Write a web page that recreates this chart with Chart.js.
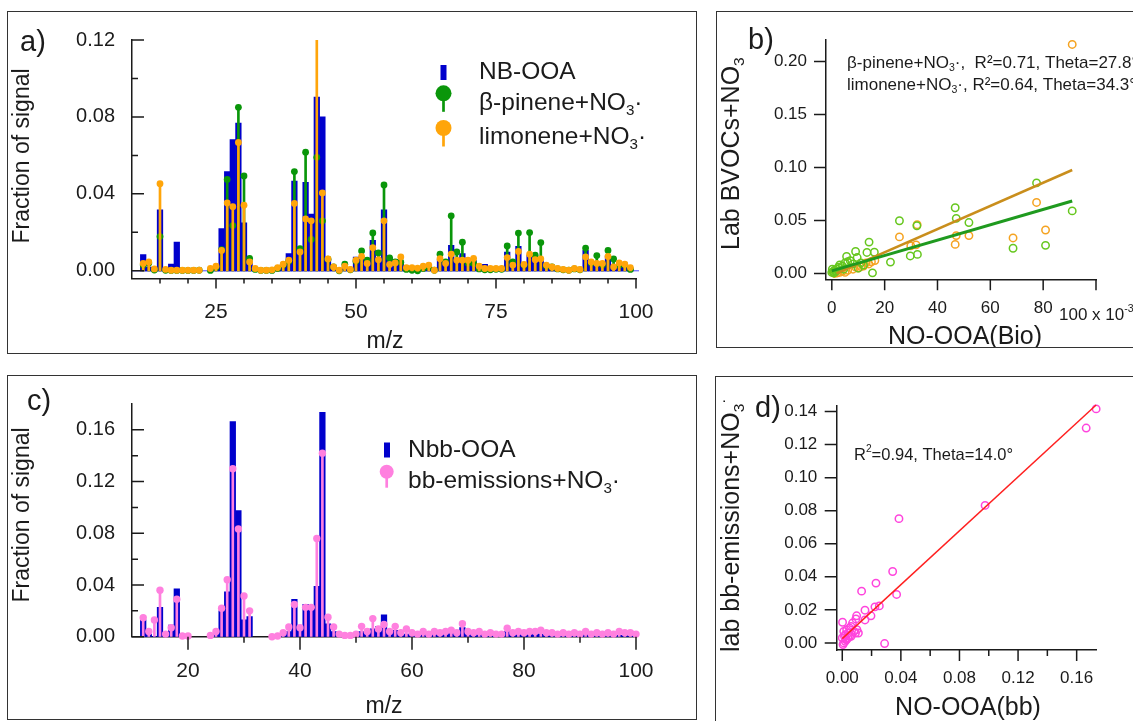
<!DOCTYPE html>
<html>
<head>
<meta charset="utf-8">
<script src="https://cdn.jsdelivr.net/npm/chart.js@4"></script>
<style>
	html, body { margin: 0; padding: 0; background: #fff; overflow: hidden; width: 1133px; height: 721px; }
	canvas { position: absolute; }
	.frame { position: absolute; box-sizing: border-box; border: 1.5px solid #333; pointer-events: none; }
</style>
</head>
<body>
<canvas id="chartA" width="690" height="343" style="left:7px;top:11px"></canvas>
<canvas id="chartB" width="430" height="337" style="left:716px;top:11px"></canvas>
<canvas id="chartC" width="690" height="345" style="left:7px;top:375px"></canvas>
<canvas id="chartD" width="430" height="360" style="left:715px;top:376px"></canvas>
<div class="frame" style="left:7px;top:11px;width:690px;height:343px"></div>
<div class="frame" style="left:716px;top:11px;width:430px;height:337px"></div>
<div class="frame" style="left:7px;top:375px;width:690px;height:345px"></div>
<div class="frame" style="left:715px;top:376px;width:430px;height:360px"></div>
<script>
// ---- a) NB-OOA vs lab BVOC+NO3 spectra ----
const mzA = [12, 13, 14, 15, 16, 17, 18, 19, 20, 21, 22, 23, 24, 25, 26, 27, 28, 29, 30, 31,
	32, 33, 34, 35, 36, 37, 38, 39, 40, 41, 42, 43, 44, 45, 46, 47, 48, 49, 50, 51,
	52, 53, 54, 55, 56, 57, 58, 59, 60, 61, 62, 63, 64, 65, 66, 67, 68, 69, 70, 71,
	72, 73, 74, 75, 76, 77, 78, 79, 80, 81, 82, 83, 84, 85, 86, 87, 88, 89, 90, 91,
	92, 93, 94, 95, 96, 97, 98, 99];
const nbOoa = [0.0084, 0.002, 0.001, 0.0317, 0.001, 0.0035, 0.015, 0, 0, 0,
	0, null, 0.0005, 0.001, 0.022, 0.0516, 0.0682, 0.0768, 0.025, 0.005,
	0.001, 0, 0, 0, 0.001, 0.003, 0.0089, 0.0466, 0.011, 0.046,
	0.0295, 0.0903, 0.080, 0.006, 0.002, 0.001, 0.002, 0.001, 0.0072, 0.0072,
	0.004, 0.0158, 0.007, 0.0317, 0.007, 0.006, 0.004, 0.001, 0.001, 0.001,
	0.001, 0.002, 0.001, 0.006, 0.004, 0.0132, 0.006, 0.009, 0.004, 0.0055,
	0.0034, 0.0034, 0.001, 0.001, 0.001, 0.0098, 0.004, 0.0127, 0.003, 0.008,
	0.006, 0.006, 0.003, 0.002, 0.001, 0.001, 0.0005, 0.001, 0.0005, 0.0106,
	0.0045, 0.0045, 0.0045, 0.0078, 0.003, 0.003, 0.002, 0.001];
const pinene = [0.003, 0.004, 0.0004, 0.0178, 0.0003, 0.0002, 0.0002, 0.0002, 0.0002, 0.0002,
	0.0003, null, 0.0002, 0.0017, 0.011, 0.0475, 0.0235, 0.085, 0.0493, 0.0064,
	0.0007, 0.0002, 0.0002, 0.0002, 0.0012, 0.003, 0.005, 0.0516, 0.0115, 0.0617,
	0.0163, 0.059, 0.026, 0.006, 0.002, 0.0, 0.0034, 0.0005, 0.005, 0.0103,
	0.0055, 0.0197, 0.0093, 0.0446, 0.0067, 0.0046, 0.0045, 0.0007, 0.0003, 0.0,
	0.0012, 0.002, 0.0003, 0.0086, 0.0046, 0.0286, 0.0098, 0.0149, 0.004, 0.0038,
	0.001, 0.0005, 0.0005, 0.0008, 0.0008, 0.0129, 0.0046, 0.0196, 0.003, 0.0199,
	0.0081, 0.0147, 0.0025, 0.002, 0.001, 0.0005, 0.0003, 0.001, 0.0005, 0.0118,
	0.004, 0.0079, 0.003, 0.0106, 0.0062, 0.003, 0.003, 0.0007];
const limonene = [0.0038, 0.0046, 0.001, 0.0453, 0.0007, 0.0003, 0.0003, 0.0003, 0.0003, 0.0003,
	0.0003, null, 0.0012, 0.0024, 0.0106, 0.0353, 0.0333, 0.0667, 0.0341, 0.0046,
	0.0012, 0.0003, 0.0003, 0.0005, 0.0017, 0.0034, 0.0055, 0.035, 0.0098, 0.027,
	0.026, 0.13, 0.0405, 0.0062, 0.002, 0.0003, 0.0024, 0.0007, 0.0055, 0.0075,
	0.0038, 0.012, 0.0058, 0.026, 0.0033, 0.0041, 0.0072, 0.0017, 0.0017, 0.0014,
	0.0024, 0.003, 0.0003, 0.0063, 0.0038, 0.0086, 0.0055, 0.0055, 0.0055, 0.0064,
	0.0024, 0.0012, 0.0012, 0.0012, 0.0012, 0.0069, 0.003, 0.0101, 0.0033, 0.0086,
	0.0058, 0.0062, 0.003, 0.002, 0.0012, 0.0007, 0.0003, 0.0012, 0.0007, 0.0072,
	0.0046, 0.0038, 0.0038, 0.0075, 0.002, 0.0041, 0.0034, 0.0017];

// ---- b) lab vs ambient scatter (x in 1e-3) ----
const pineneX = [91, 77.5, 80.9, 68.6, 51.9, 46.7, 47.1, 32.2, 32.4, 29.7, 25.6, 22.2, 15.4, 16.1, 14.1, 13.3,
	9, 9.6, 5.6, 5, 4, 3, 2, 1, 0.5, 0, 0.2, 7, 11, 12, 8, 6, 10, 3, 1.5, 2.5, 4.5, 0.8];
const pineneY = [0.059, 0.0854, 0.0265, 0.0238, 0.048, 0.062, 0.052, 0.045, 0.018, 0.0165, 0.0497, 0.0107, 0.0006, 0.020, 0.0296, 0.0198,
	0.0207, 0.015, 0.016, 0.010, 0.007, 0.005, 0.004, 0.003, 0.002, 0.001, 0.004, 0.012, 0.010, 0.008, 0.009, 0.011, 0.005, 0.008, 0.002, 0.006, 0.004, 0.0005];
const limoneneX = [91, 77.5, 80.9, 68.6, 51.9, 47.1, 46.7, 32.3, 31.9, 29.9, 25.6, 16.3, 14, 12,
	10, 8, 6, 4, 3, 2, 1, 0.5, 9, 13, 5, 15, 11];
const limoneneY = [0.216, 0.067, 0.041, 0.0335, 0.0357, 0.0357, 0.0274, 0.046, 0.027, 0.026, 0.0345, 0.0122, 0.009, 0.007,
	0.005, 0.004, 0.003, 0.002, 0.001, 0.0005, 0.0, 0.001, 0.006, 0.010, 0.001, 0.011, 0.0065];
const limFitX = [1.8, 91];
const limFitY = [0, 0.0976];
const pinFitX = [0, 91];
const pinFitY = [0.0024, 0.0683];

// ---- c) Nbb-OOA vs lab bb-emissions+NO3 ----
const mzC = [12, 13, 14, 15, 16, 17, 18, 19, 20, 21, 22, 23, 24, 25, 26, 27, 28, 29, 30, 31,
	32, 33, 34, 35, 36, 37, 38, 39, 40, 41, 42, 43, 44, 45, 46, 47, 48, 49, 50, 51,
	52, 53, 54, 55, 56, 57, 58, 59, 60, 61, 62, 63, 64, 65, 66, 67, 68, 69, 70, 71,
	72, 73, 74, 75, 76, 77, 78, 79, 80, 81, 82, 83, 84, 85, 86, 87, 88, 89, 90, 91,
	92, 93, 94, 95, 96, 97, 98, 99, 100];
const nbbOoa = [0.013, 0.002, 0.0, 0.0227, 0.001, 0.009, 0.037, 0, 0, null,
	null, null, 0, 0.002, 0.020, 0.0348, 0.1664, 0.0975, 0.013, 0.0155,
	null, null, null, 0, 0, 0.002, 0.004, 0.029, 0.005, 0.025,
	0.022, 0.039, 0.1736, 0.010, 0.004, 0.001, 0.0005, 0.0005, 0.001, 0.004,
	0.003, 0.006, 0.008, 0.017, 0.005, 0.005, 0.003, 0.002, 0.001, 0.001,
	0.002, 0.001, 0.002, 0.001, 0.002, 0.003, 0.002, 0.007, 0.002, 0.001,
	0.002, 0.001, 0.001, 0.001, 0.001, 0.004, 0.002, 0.003, 0.002, 0.003,
	0.003, 0.002, 0.002, 0.001, 0.001, 0.001, 0.001, 0.001, 0.001, 0.002,
	0.001, 0.001, 0.001, 0.001, 0.001, 0.001, 0.001, 0.001, 0.001];
const bbEmis = [0.0147, 0.004, 0.013, 0.036, 0.002, 0.007, 0.029, 0.0005, 0.0005, null,
	null, null, 0.001, 0.004, 0.022, 0.044, 0.130, 0.0834, 0.0315, 0.020,
	null, null, null, 0.0, 0.0005, 0.003, 0.0075, 0.025, 0.007, 0.0227,
	0.0227, 0.076, 0.142, 0.015, 0.0075, 0.002, 0.001, 0.001, 0.002, 0.008,
	0.004, 0.014, 0.006, 0.0095, 0.004, 0.008, 0.003, 0.006, 0.003, 0.002,
	0.004, 0.002, 0.004, 0.003, 0.004, 0.005, 0.003, 0.010, 0.004, 0.003,
	0.004, 0.002, 0.003, 0.002, 0.002, 0.0065, 0.003, 0.004, 0.003, 0.004,
	0.004, 0.005, 0.003, 0.003, 0.002, 0.003, 0.002, 0.003, 0.002, 0.004,
	0.002, 0.003, 0.002, 0.003, 0.002, 0.004, 0.003, 0.003, 0.002];

// ---- d) lab bb-emissions vs NO-OOA(bb) ----
const bbX = [0.1733, 0.1665, 0.0975, 0.0387, 0.0344, 0.0371, 0.023, 0.0132, 0.0289, 0.0253, 0.0223, 0.0155, 0.0196,
	0.0155, 0.0098, 0.0093, 0.0002, 0.001, 0.002, 0.003, 0.004, 0.005, 0.006, 0.007, 0.008, 0.009, 0.010,
	0.011, 0.005, 0.003, 0.002, 0.001, 0.0005, 0.000, 0.004, 0.006, 0.0015, 0.0025];
const bbY = [0.1416, 0.130, 0.0832, 0.0752, 0.0432, 0.0293, 0.0362, 0.0313, -0.0004, 0.0224, 0.0218, 0.0198, 0.0164,
	0.0139, 0.0164, 0.0145, 0.0125, 0.007, 0.005, 0.008, 0.006, 0.004, 0.010, 0.012, 0.007, 0.006, 0.008,
	0.006, 0.009, 0.002, 0.001, 0.0, -0.001, 0.003, 0.003, 0.004, 0.004, 0.002];
const bbFitX = [0, 0.1733];
const bbFitY = [0.0026, 0.144];

const FONT = '"Liberation Sans", Arial, Helvetica, sans-serif';
const INK = '#1b1b1b';
const BLUE = '#0000cc';
const GREEN = '#0a960a';
const ORANGE = '#ffa50a';
const PINK = '#ff80df';

Chart.defaults.font.family = FONT;
Chart.defaults.color = INK;

function pts(xs, ys) {
	return xs.map((x, i) => ({ x: x, y: ys[i] }));
}

// text with sub/superscript pieces: parts = [[text, ''|'sub'|'sup'], ...]
function richText(ctx, parts, x, y, size, align) {
	const small = size * 0.62;
	let w = 0;
	parts.forEach(p => {
		ctx.font = (p[1] ? small : size) + 'px ' + FONT;
		w += ctx.measureText(p[0]).width;
	});
	let cx = align === 'center' ? x - w / 2 : x;
	parts.forEach(p => {
		ctx.font = (p[1] ? small : size) + 'px ' + FONT;
		const dy = p[1] === 'sub' ? size * 0.3 : p[1] === 'sup' ? -size * 0.35 : 0;
		ctx.fillText(p[0], cx, y + dy);
		cx += ctx.measureText(p[0]).width;
	});
}

// Igor-like tick marks, labels and hand drawn legends
function decor(spec) {
	return {
		id: 'decor',
		beforeDatasetsDraw(chart) {
			if (!spec.baseline) return;
			const ctx = chart.ctx, area = chart.chartArea;
			const y0 = chart.scales.y.getPixelForValue(0);
			ctx.save();
			ctx.strokeStyle = spec.baseline;
			ctx.lineWidth = 1;
			ctx.beginPath();
			ctx.moveTo(area.left, y0);
			ctx.lineTo(area.right + 3, y0);
			ctx.stroke();
			ctx.restore();
		},
		afterDraw(chart) {
			const ctx = chart.ctx, area = chart.chartArea;
			ctx.save();
			ctx.strokeStyle = INK;
			ctx.lineWidth = 1.5;
			(spec.ticks || []).forEach(t => {
				const sc = chart.scales[t.axis];
				ctx.beginPath();
				t.at.forEach(v => {
					const p = sc.getPixelForValue(v);
					if (t.axis === 'x') {
						ctx.moveTo(p, area.bottom);
						ctx.lineTo(p, area.bottom + t.len);
					} else {
						ctx.moveTo(area.left, p);
						ctx.lineTo(area.left + t.len, p);
					}
				});
				ctx.stroke();
			});
			(spec.marks || []).forEach(m => {
				ctx.fillStyle = m.color;
				ctx.strokeStyle = m.color;
				if (m.kind === 'bar') {
					ctx.fillRect(m.x - 3, m.y - 7.5, 6, 15);
				} else {
					ctx.lineWidth = 2.7;
					ctx.beginPath();
					ctx.moveTo(m.x, m.y);
					ctx.lineTo(m.x, m.y + m.stem);
					ctx.stroke();
					ctx.beginPath();
					ctx.arc(m.x, m.y, m.r, 0, Math.PI * 2);
					ctx.fill();
				}
			});
			ctx.fillStyle = INK;
			ctx.textBaseline = 'middle';
			ctx.textAlign = 'left';
			(spec.texts || []).forEach(t => {
				if (t.rot) {
					ctx.save();
					ctx.translate(t.x, t.y);
					ctx.rotate(-Math.PI / 2);
					richText(ctx, t.parts, 0, 0, t.size, t.align);
					ctx.restore();
				} else {
					richText(ctx, t.parts, t.x, t.y, t.size, t.align);
				}
			});
			ctx.restore();
		}
	};
}

function scaleOpts(o) {
	return {
		type: 'linear',
		min: o.min,
		max: o.max,
		offset: false,
		grid: { display: false, drawTicks: false, offset: false },
		border: { display: true, color: INK, width: 1.5 },
		afterBuildTicks: s => { s.ticks = o.ticks.map(v => ({ value: v })); },
		afterFit: o.fit,
		ticks: { font: { size: o.size }, color: INK, padding: o.pad, maxRotation: 0, autoSkip: false, callback: o.fmt }
	};
}

function baseOptions(pad, x, y) {
	return {
		responsive: false,
		animation: false,
		devicePixelRatio: 1,
		layout: { autoPadding: false, padding: pad },
		plugins: { legend: { display: false }, tooltip: { enabled: false } },
		scales: { x: x, y: y }
	};
}

function stems(xs, ys, color, order) {
	return { type: 'bar', data: pts(xs, ys), backgroundColor: color, barThickness: 2, grouped: false, order: order, clip: 0 };
}

function dots(xs, ys, color, r, order, clip) {
	return {
		type: 'scatter', data: pts(xs, ys), pointRadius: r, pointHoverRadius: r,
		pointBackgroundColor: color, pointBorderWidth: 0, order: order, clip: clip
	};
}

function rings(xs, ys, color, order) {
	return {
		type: 'scatter', data: pts(xs, ys), pointRadius: 3.7, pointHoverRadius: 3.7,
		pointBackgroundColor: 'rgba(0,0,0,0)', pointBorderColor: color, pointBorderWidth: 1.5,
		order: order, clip: false
	};
}

function fitLine(xs, ys, color, width, order) {
	return {
		type: 'scatter', data: pts(xs, ys), showLine: true, borderColor: color, borderWidth: width,
		pointRadius: 0, order: order, clip: false
	};
}

const fixed2 = v => Number(v).toFixed(2);

// a)
new Chart(document.getElementById('chartA'), {
	type: 'bar',
	data: {
		datasets: [
			{ type: 'bar', data: pts(mzA, nbOoa), backgroundColor: BLUE, barPercentage: 1, categoryPercentage: 1, grouped: false, order: 10, clip: 0 },
			stems(mzA, pinene, GREEN, 8),
			dots(mzA, pinene, GREEN, 3.4, 7, 0),
			stems(mzA, limonene, ORANGE, 6),
			dots(mzA, limonene, ORANGE, 3.4, 5, 0)
		]
	},
	options: baseOptions({ left: 0, top: 27, right: 61, bottom: 0 },
		scaleOpts({ min: 10, max: 100, ticks: [25, 50, 75, 100], fmt: v => String(v), size: 21, pad: 21, fit: s => { s.height = 75.5; } }),
		scaleOpts({ min: -0.004, max: 0.12, ticks: [0, 0.04, 0.08, 0.12], fmt: fixed2, size: 20, pad: 17, fit: s => { s.width = 125; } })),
	plugins: [decor({
		baseline: '#4646ff',
		ticks: [
			{ axis: 'x', at: [25, 50, 75, 100], len: 10 },
			{ axis: 'x', at: [15, 20, 30, 35, 40, 45, 55, 60, 65, 70, 80, 85, 90, 95], len: 5 },
			{ axis: 'y', at: [0, 0.04, 0.08, 0.12], len: 12 },
			{ axis: 'y', at: [0.02, 0.06, 0.10], len: 6 }
		],
		marks: [
			{ kind: 'bar', x: 436.5, y: 61.5, color: BLUE },
			{ kind: 'stem', x: 436.5, y: 82.3, r: 8, stem: 18.5, color: GREEN },
			{ kind: 'stem', x: 436.5, y: 117, r: 8, stem: 18.5, color: ORANGE }
		],
		texts: [
			{ parts: [['a)', '']], x: 13, y: 32, size: 29 },
			{ parts: [['Fraction of signal', '']], x: 16, y: 145, size: 23, rot: true, align: 'center' },
			{ parts: [['m/z', '']], x: 378, y: 331, size: 23, align: 'center' },
			{ parts: [['NB-OOA', '']], x: 472, y: 61.5, size: 24.5 },
			{ parts: [['β-pinene+NO', ''], ['3', 'sub'], ['·', '']], x: 472, y: 92, size: 24.5 },
			{ parts: [['limonene+NO', ''], ['3', 'sub'], ['·', '']], x: 472, y: 126, size: 24.5 }
		]
	})]
});

// b)
new Chart(document.getElementById('chartB'), {
	type: 'scatter',
	data: {
		datasets: [
			fitLine(pinFitX, pinFitY, '#1f9a1f', 3, 1),
			fitLine(limFitX, limFitY, '#c98e1c', 2.5, 2),
			rings(pineneX, pineneY, '#66c71e', 3),
			rings(limoneneX, limoneneY, '#f5a321', 4)
		]
	},
	options: baseOptions({ left: 0, top: 22.3, right: 50, bottom: 0 },
		scaleOpts({ min: -2.2, max: 100, ticks: [0, 20, 40, 60, 80, 100], fmt: v => (v === 100 ? '' : String(v)), size: 17, pad: 18.5, fit: s => { s.height = 68.7; } }),
		scaleOpts({ min: -0.0055, max: 0.22, ticks: [0, 0.05, 0.10, 0.15, 0.20], fmt: fixed2, size: 17, pad: 19, fit: s => { s.width = 110; } })),
	plugins: [decor({
		ticks: [
			{ axis: 'x', at: [0, 20, 40, 60, 80, 100], len: 11 },
			{ axis: 'y', at: [0, 0.05, 0.10, 0.15, 0.20], len: -12 }
		],
		texts: [
			{ parts: [['b)', '']], x: 32, y: 30, size: 29 },
			{ parts: [['β-pinene+NO', ''], ['3', 'sub'], ['·,  R²=0.71, Theta=27.8°', '']], x: 131, y: 52, size: 17 },
			{ parts: [['limonene+NO', ''], ['3', 'sub'], ['·, R²=0.64, Theta=34.3°', '']], x: 131, y: 74, size: 17 },
			{ parts: [['100 x 10', ''], ['-3', 'sup']], x: 343, y: 304, size: 17 },
			{ parts: [['NO-OOA(Bio)', '']], x: 249, y: 326, size: 25, align: 'center' },
			{ parts: [['Lab BVOCs+NO', ''], ['3', 'sub']], x: 16, y: 239, size: 25, rot: true }
		]
	})]
});

// c)
new Chart(document.getElementById('chartC'), {
	type: 'bar',
	data: {
		datasets: [
			{ type: 'bar', data: pts(mzC, nbbOoa), backgroundColor: BLUE, barPercentage: 1, categoryPercentage: 1, grouped: false, order: 10, clip: 0 },
			stems(mzC, bbEmis, PINK, 6),
			dots(mzC, bbEmis, PINK, 3.7, 5, false)
		]
	},
	options: baseOptions({ left: 0, top: 28.6, right: 61, bottom: 0 },
		scaleOpts({ min: 10, max: 100, ticks: [20, 40, 60, 80, 100], fmt: v => String(v), size: 21, pad: 22.4, fit: s => { s.height = 83.3; } }),
		scaleOpts({ min: 0, max: 0.18, ticks: [0, 0.04, 0.08, 0.12, 0.16], fmt: fixed2, size: 20, pad: 17, fit: s => { s.width = 125; } })),
	plugins: [decor({
		ticks: [
			{ axis: 'x', at: [20, 40, 60, 80, 100], len: 13 },
			{ axis: 'x', at: [30, 50, 70, 90], len: 6 },
			{ axis: 'y', at: [0, 0.04, 0.08, 0.12, 0.16], len: 12 },
			{ axis: 'y', at: [0.02, 0.06, 0.10, 0.14], len: 6 }
		],
		marks: [
			{ kind: 'bar', x: 380, y: 75, color: BLUE },
			{ kind: 'stem', x: 379.7, y: 96.7, r: 7, stem: 16, color: PINK }
		],
		texts: [
			{ parts: [['c)', '']], x: 20, y: 27, size: 29 },
			{ parts: [['Fraction of signal', '']], x: 16, y: 140, size: 23, rot: true, align: 'center' },
			{ parts: [['m/z', '']], x: 377, y: 332, size: 23, align: 'center' },
			{ parts: [['Nbb-OOA', '']], x: 401, y: 75, size: 24.5 },
			{ parts: [['bb-emissions+NO', ''], ['3', 'sub'], ['·', '']], x: 401, y: 106, size: 24.5 }
		]
	})]
});

// d)
new Chart(document.getElementById('chartD'), {
	type: 'scatter',
	data: {
		datasets: [
			fitLine(bbFitX, bbFitY, '#ff2020', 1.5, 1),
			rings(bbX, bbY, '#ff44dd', 2)
		]
	},
	options: baseOptions({ left: 0, top: 24.7, right: 49, bottom: 0 },
		scaleOpts({ min: -0.0038, max: 0.1732, ticks: [0, 0.04, 0.08, 0.12, 0.16], fmt: fixed2, size: 17, pad: 17.8, fit: s => { s.height = 86; } }),
		scaleOpts({ min: -0.0043, max: 0.1436, ticks: [0, 0.02, 0.04, 0.06, 0.08, 0.10, 0.12, 0.14], fmt: fixed2, size: 17, pad: 19.4, fit: s => { s.width = 121.7; } })),
	plugins: [decor({
		ticks: [
			{ axis: 'x', at: [0, 0.04, 0.08, 0.12, 0.16], len: 11 },
			{ axis: 'x', at: [0.02, 0.06, 0.10, 0.14], len: 6 },
			{ axis: 'y', at: [0, 0.02, 0.04, 0.06, 0.08, 0.10, 0.12, 0.14], len: -12 }
		],
		texts: [
			{ parts: [['d)', '']], x: 40, y: 33, size: 29 },
			{ parts: [['R', ''], ['2', 'sup'], ['=0.94, Theta=14.0°', '']], x: 139, y: 79, size: 16.5 },
			{ parts: [['NO-OOA(bb)', '']], x: 253, y: 332, size: 25, align: 'center' },
			{ parts: [['lab bb-emissions+NO', ''], ['3', 'sub'], ['·', 'sup']], x: 17, y: 276, size: 25, rot: true }
		]
	})]
});
</script>
</body>
</html>
